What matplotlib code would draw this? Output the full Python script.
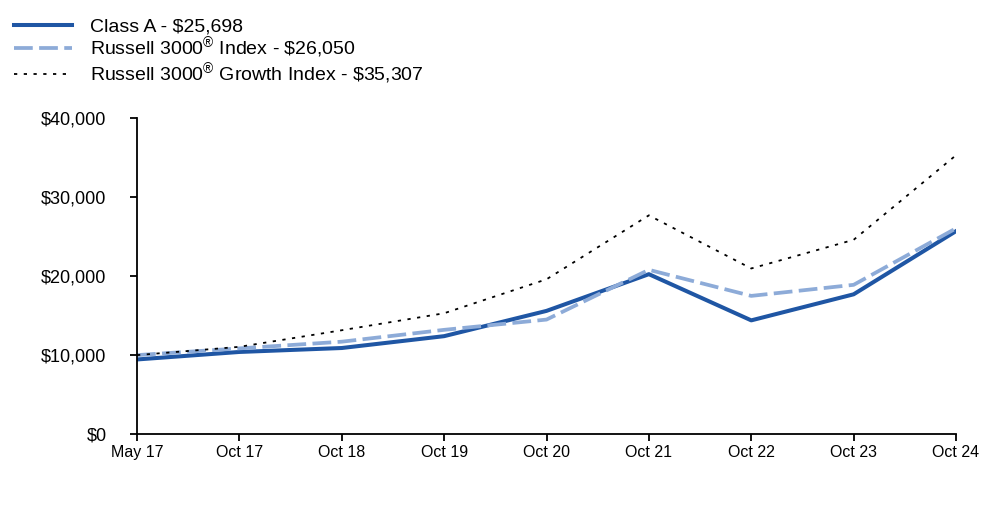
import matplotlib
matplotlib.use("Agg")
import matplotlib.pyplot as plt
from matplotlib.ticker import FuncFormatter

plt.rcParams['font.family'] = ['Liberation Sans', 'DejaVu Sans']
plt.rcParams['mathtext.fontset'] = 'custom'
plt.rcParams['mathtext.rm'] = 'Liberation Sans'
plt.rcParams['mathtext.it'] = 'Liberation Sans:italic'
plt.rcParams['mathtext.bf'] = 'Liberation Sans:bold'

# data
periods = ["May 17", "Oct 17", "Oct 18", "Oct 19", "Oct 20", "Oct 21", "Oct 22", "Oct 23", "Oct 24"]
class_a = [9450, 10400, 10900, 12400, 15600, 20250, 14400, 17700, 25698]
russell_3000 = [10000, 10850, 11700, 13200, 14500, 20800, 17500, 18900, 26050]
russell_growth = [10000, 11050, 13150, 15300, 19600, 27700, 20970, 24600, 35307]

labels = [r"Class A - \$25,698",
          r"Russell 3000$^{\circledR}$ Index - \$26,050",
          r"Russell 3000$^{\circledR}$ Growth Index - \$35,307"]

x = list(range(len(periods)))

fig = plt.figure(figsize=(10, 5.23), dpi=100)
ax = fig.add_axes([0.137, 0.170, 0.819, 0.604])

l1, = ax.plot(x, class_a, color="#1f56a4", linewidth=2.9)
l2, = ax.plot(x, russell_3000, color="#8dabd8", linewidth=2.7, dashes=(5, 1.7))
l3, = ax.plot(x, russell_growth, color="black", linewidth=1.3, dashes=(1.8, 3.6))

ax.set_xlim(0, len(periods) - 1)
ax.set_ylim(0, 40000)
ax.set_yticks([0, 10000, 20000, 30000, 40000])
ax.yaxis.set_major_formatter(FuncFormatter(lambda v, p: "${:,.0f}".format(v)))
ax.set_xticks(x)
ax.set_xticklabels(periods)

for s in ["top", "right"]:
    ax.spines[s].set_visible(False)
for s in ["left", "bottom"]:
    ax.spines[s].set_linewidth(1.3)
    ax.spines[s].set_color("black")

ax.tick_params(axis="y", length=5, width=1.3, pad=17, labelsize=13)
ax.tick_params(axis="x", length=5, width=1.3, pad=3, labelsize=11.5)

fig.legend([l1, l2, l3], labels, loc="upper left", bbox_to_anchor=(0.0, 0.992),
           frameon=False, fontsize=14, handlelength=3.0, handletextpad=0.95,
           labelspacing=0.0, borderaxespad=0.3, borderpad=0.4)

fig.savefig("out.png", dpi=100)
